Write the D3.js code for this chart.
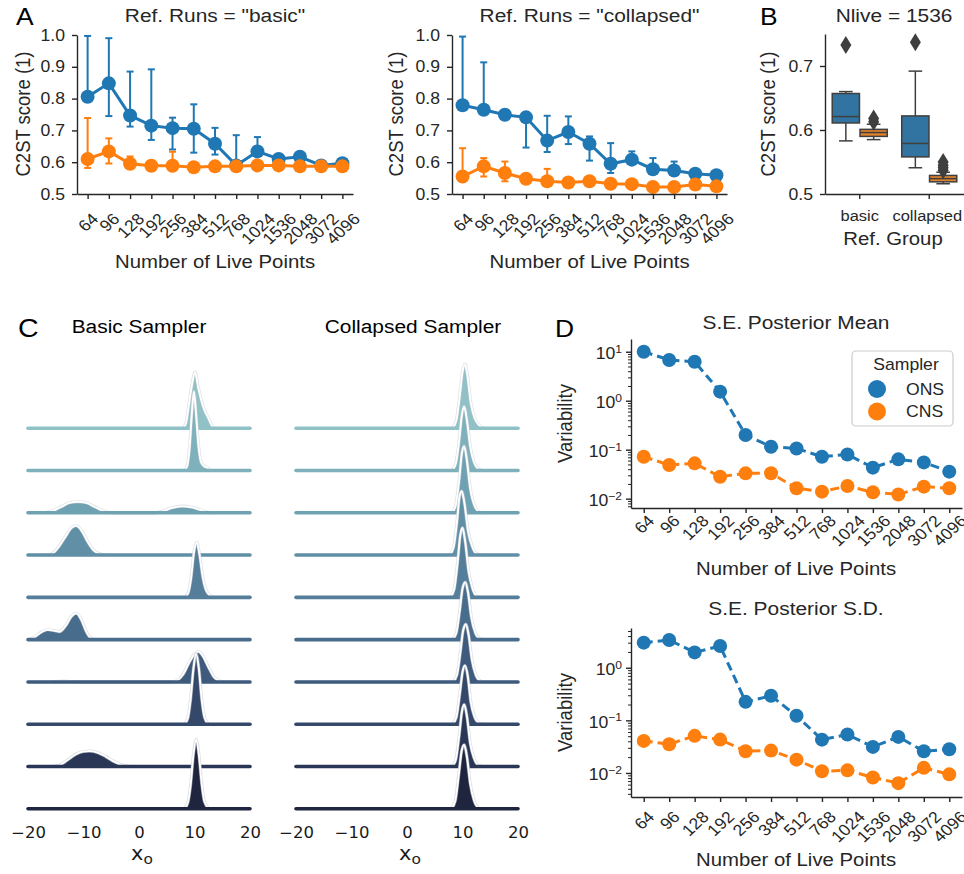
<!DOCTYPE html>
<html>
<head>
<meta charset="utf-8">
<script src="https://cdn.jsdelivr.net/npm/d3@7"></script>
<style>
  body { margin: 0; background: #fff; }
  svg { display: block; }
</style>
</head>
<body>
<svg id="fig" width="964" height="874"></svg>
<script>
// ---------------- data ----------------
const liveTicks = ["64", "96", "128", "192", "256", "384", "512", "768", "1024", "1536", "2048", "3072", "4096"];

// Panel A, Ref. Runs = "basic"
const basicOnsMean = [0.806, 0.848, 0.747, 0.715, 0.707, 0.705, 0.658, 0.590, 0.634, 0.610, 0.617, 0.590, 0.597];
const basicOnsLo   = [0.790, 0.745, 0.712, 0.670, 0.640, 0.630, 0.624, 0.585, 0.620, 0.600, 0.605, 0.585, 0.590];
const basicOnsHi   = [0.997, 0.990, 0.885, 0.892, 0.740, 0.782, 0.708, 0.685, 0.679, 0.620, 0.625, 0.595, 0.605];
const basicCnsMean = [0.610, 0.634, 0.595, 0.589, 0.589, 0.584, 0.587, 0.587, 0.590, 0.590, 0.587, 0.587, 0.587];
const basicCnsLo   = [0.582, 0.596, 0.585, 0.585, 0.580, 0.580, 0.583, 0.583, 0.586, 0.586, 0.583, 0.583, 0.583];
const basicCnsHi   = [0.739, 0.675, 0.618, 0.595, 0.633, 0.590, 0.592, 0.592, 0.595, 0.595, 0.592, 0.592, 0.592];

// Panel A, Ref. Runs = "collapsed"
const collOnsMean = [0.779, 0.765, 0.749, 0.741, 0.668, 0.695, 0.658, 0.595, 0.608, 0.578, 0.574, 0.564, 0.559];
const collOnsLo   = [0.765, 0.755, 0.740, 0.646, 0.632, 0.657, 0.605, 0.566, 0.598, 0.565, 0.565, 0.558, 0.552];
const collOnsHi   = [0.995, 0.914, 0.758, 0.750, 0.746, 0.744, 0.681, 0.660, 0.634, 0.613, 0.602, 0.572, 0.566];
const collCnsMean = [0.555, 0.587, 0.566, 0.548, 0.540, 0.536, 0.540, 0.532, 0.531, 0.522, 0.522, 0.530, 0.524];
const collCnsLo   = [0.540, 0.555, 0.540, 0.540, 0.532, 0.530, 0.535, 0.527, 0.526, 0.517, 0.517, 0.524, 0.519];
const collCnsHi   = [0.644, 0.613, 0.602, 0.556, 0.579, 0.543, 0.546, 0.538, 0.537, 0.528, 0.528, 0.536, 0.530];

// Panel B, Nlive = 1536 (order: basic-ONS, basic-CNS, collapsed-ONS, collapsed-CNS)
const boxGroups = ["basic", "collapsed"];
const boxSamplers = ["ONS", "CNS"];
const boxWhiskLo = [0.583, 0.585, 0.541, 0.516];
const boxQ1      = [0.611, 0.590, 0.558, 0.519];
const boxMedian  = [0.621, 0.596, 0.579, 0.524];
const boxQ3      = [0.657, 0.601, 0.622, 0.529];
const boxWhiskHi = [0.660, 0.609, 0.692, 0.534];
const boxOutliers = [[0.733], [0.613, 0.618], [0.737], [0.537, 0.541, 0.545, 0.550]];

// Panel C, posterior densities of x_o, [x, density] (top row first)
const basicRidges = [
  [[8.0, 0], [8.5, 0.06], [8.9, 0.2], [9.5, 0.42], [10.1, 0.56], [10.7, 0.4], [11.6, 0.21], [12.5, 0.1], [13.0, 0.04], [13.5, 0]],
  [[8.2, 0], [8.7, 0.05], [9.1, 0.22], [9.5, 0.55], [9.9, 0.79], [10.3, 0.55], [10.7, 0.26], [11.2, 0.08], [11.8, 0.04], [12.3, 0.03], [12.8, 0]],
  [[-17, 0], [-15.5, 0.02], [-14, 0.06], [-12.5, 0.1], [-11, 0.11], [-9.5, 0.1], [-8, 0.06], [-6.5, 0.02], [-5, 0], [3, 0], [4.5, 0.02], [6, 0.05], [7.7, 0.066], [9.5, 0.055], [11, 0.03], [12.5, 0.005], [13.5, 0]],
  [[-16.5, 0], [-15.5, 0.02], [-14.5, 0.08], [-13.3, 0.18], [-12.2, 0.27], [-11.3, 0.293], [-10.3, 0.24], [-9.2, 0.13], [-8.2, 0.05], [-7, 0.01], [-6, 0]],
  [[8.3, 0], [8.9, 0.05], [9.4, 0.2], [9.9, 0.45], [10.4, 0.55], [10.9, 0.43], [11.5, 0.2], [12.1, 0.07], [12.8, 0.02], [13.5, 0]],
  [[-20, 0], [-19, 0.02], [-18, 0.06], [-16.5, 0.099], [-15.2, 0.09], [-14.3, 0.08], [-13.2, 0.14], [-12.2, 0.23], [-11.3, 0.264], [-10.4, 0.2], [-9.5, 0.08], [-8.6, 0.01], [-8, 0]],
  [[-15.5, 0], [-13.5, 0.008], [-11.5, 0], [6, 0], [7, 0.02], [8, 0.08], [9, 0.19], [10, 0.28], [10.7, 0.304], [11.5, 0.26], [12.5, 0.15], [13.5, 0.05], [14.5, 0.01], [15.5, 0]],
  [[8.2, 0], [8.8, 0.06], [9.3, 0.25], [9.8, 0.55], [10.3, 0.703], [10.8, 0.55], [11.3, 0.25], [11.8, 0.07], [12.5, 0]],
  [[-15.5, 0], [-14.5, 0.01], [-13, 0.06], [-11.5, 0.12], [-10, 0.15], [-9, 0.154], [-7.5, 0.14], [-6, 0.1], [-4.5, 0.05], [-3, 0.015], [-1.5, 0]],
  [[8.2, 0], [8.8, 0.06], [9.3, 0.24], [9.8, 0.54], [10.3, 0.695], [10.8, 0.54], [11.3, 0.25], [11.8, 0.07], [12.6, 0]]
];
const collapsedRidges = [
  [[8.2, 0], [8.9, 0.08], [9.5, 0.32], [10.0, 0.56], [10.45, 0.64], [10.9, 0.52], [11.5, 0.25], [12.2, 0.1], [13.0, 0.03], [13.8, 0]],
  [[8.1, 0], [8.8, 0.07], [9.4, 0.3], [9.9, 0.56], [10.3, 0.64], [10.8, 0.5], [11.4, 0.24], [12.1, 0.08], [13.0, 0.01], [13.6, 0]],
  [[8.1, 0], [8.8, 0.08], [9.4, 0.33], [9.9, 0.6], [10.3, 0.666], [10.8, 0.52], [11.4, 0.24], [12.1, 0.08], [13.0, 0.01], [13.6, 0]],
  [[7.7, 0], [8.4, 0.08], [9.0, 0.33], [9.45, 0.58], [9.85, 0.64], [10.4, 0.5], [11.0, 0.24], [11.8, 0.08], [12.6, 0.01], [13.3, 0]],
  [[7.8, 0], [8.5, 0.08], [9.1, 0.34], [9.6, 0.62], [10.0, 0.695], [10.5, 0.55], [11.1, 0.26], [11.8, 0.09], [12.6, 0.01], [13.3, 0]],
  [[8.2, 0], [8.9, 0.07], [9.5, 0.29], [10.0, 0.51], [10.5, 0.575], [11.0, 0.47], [11.6, 0.22], [12.3, 0.07], [13.1, 0.01], [13.8, 0]],
  [[8.3, 0], [9.0, 0.07], [9.6, 0.29], [10.1, 0.51], [10.6, 0.578], [11.1, 0.47], [11.7, 0.22], [12.4, 0.07], [13.2, 0.01], [13.9, 0]],
  [[8.2, 0], [8.9, 0.07], [9.5, 0.3], [10.0, 0.52], [10.45, 0.586], [10.95, 0.48], [11.5, 0.22], [12.2, 0.07], [13.0, 0.01], [13.7, 0]],
  [[8.1, 0], [8.8, 0.07], [9.4, 0.31], [9.9, 0.55], [10.3, 0.619], [10.8, 0.5], [11.4, 0.23], [12.1, 0.08], [12.9, 0.01], [13.6, 0]],
  [[8.0, 0], [8.7, 0.08], [9.3, 0.33], [9.85, 0.58], [10.3, 0.64], [10.8, 0.52], [11.4, 0.25], [12.1, 0.08], [12.9, 0.01], [13.6, 0]]
];
const ridgeTicks = [-20, -10, 0, 10, 20];

// Panel D, variability of posterior mean / s.d.
const seMeanOns = [10.0, 6.8, 6.25, 1.53, 0.20, 0.115, 0.106, 0.072, 0.080, 0.043, 0.0635, 0.055, 0.0356];
const seMeanCns = [0.072, 0.0487, 0.0526, 0.0281, 0.0329, 0.033, 0.0163, 0.0139, 0.0181, 0.0135, 0.0122, 0.0176, 0.0163];
const seSdOns = [3.0, 3.37, 1.96, 2.59, 0.225, 0.293, 0.122, 0.043, 0.0537, 0.0313, 0.0485, 0.0259, 0.0282];
const seSdCns = [0.0407, 0.0352, 0.0507, 0.0431, 0.0259, 0.0266, 0.0179, 0.0108, 0.0112, 0.0082, 0.0064, 0.0125, 0.0094];

// ---------------- style ----------------
const FONT = '"Liberation Sans", Arial, Helvetica, sans-serif';
const DEJAVU = '"DejaVu Sans", sans-serif';
const INK = "#262626";
const BLUE = "#1f77b4", ORANGE = "#ff7f0e";
const BOX_FILL = ["#3274a1", "#e1812c"];
const BOX_EDGE = "#3f3f3f";
const SX = 1.1; // the original figure is slightly stretched horizontally

const svg = d3.select("#fig");
svg.append("rect").attr("width", 964).attr("height", 874).attr("fill", "#fff");

// text with the horizontal stretch of the original
function addText(g, x, y, str, o = {}) {
  const t = g.append("text")
    .attr("transform", `translate(${x},${y}) scale(${SX},1)` + (o.rotate ? ` rotate(${o.rotate})` : ""))
    .attr("text-anchor", o.anchor || "middle")
    .style("font-family", o.family || FONT)
    .style("font-size", (o.size || 18) + "px")
    .style("fill", o.color || INK);
  if (str != null) t.text(str);
  return t;
}

function styleAxis(ag, size, family) {
  ag.select(".domain").attr("stroke", INK).attr("stroke-width", 1.4);
  ag.selectAll(".tick line").attr("stroke", INK).attr("stroke-width", 1.4);
  ag.selectAll(".tick text")
    .style("font-family", family || FONT)
    .style("font-size", size + "px")
    .style("fill", INK);
}

// move x/y of tick labels into a transform so they get the stretch too
function stretchTicks(ag) {
  ag.selectAll(".tick text").each(function () {
    const tx = +this.getAttribute("x") || 0, ty = +this.getAttribute("y") || 0;
    d3.select(this).attr("x", 0).attr("y", 0)
      .attr("transform", `translate(${tx},${ty}) scale(${SX},1)`);
  });
}

function yAxis(g, scale, x0, ticks) {
  const ag = g.append("g").attr("transform", `translate(${x0},0)`)
    .call(d3.axisLeft(scale).tickValues(ticks).tickFormat(d3.format(".1f"))
      .tickSize(5).tickPadding(7).tickSizeOuter(0));
  styleAxis(ag, 16);
  stretchTicks(ag);
  return ag;
}

// x axis with labels rotated 45 deg, centred under their ticks;
// `top` is the page y where the rotated labels begin
function xAxisRotated(g, scale, y0, top) {
  const ag = g.append("g").attr("transform", `translate(0,${y0})`)
    .call(d3.axisBottom(scale).tickSize(5).tickSizeOuter(0));
  styleAxis(ag, 16);
  ag.selectAll(".tick text").each(function () {
    const w = this.getComputedTextLength();
    const cy = (top - y0) + (w + 16 * 0.72) / (2 * Math.SQRT2);
    d3.select(this).attr("y", 0).attr("dy", "0.35em").attr("text-anchor", "middle")
      .attr("transform", `translate(0,${cy}) scale(${SX},1) rotate(-45)`);
  });
  return ag;
}

function panelLetter(x, y, letter, size) {
  addText(svg, x, y, letter, { anchor: "start", size: size || 24, color: "#000" });
}

// ---------------- Panel A: C2ST vs number of live points ----------------
const yA = d3.scaleLinear([0.5, 1.0], [194, 35]);
const panelsA = [
  { x0: 77, x1: 353, title: 'Ref. Runs = "basic"', yLabelX: 23,
    series: [
      { color: BLUE, mean: basicOnsMean, lo: basicOnsLo, hi: basicOnsHi },
      { color: ORANGE, mean: basicCnsMean, lo: basicCnsLo, hi: basicCnsHi }] },
  { x0: 452, x1: 727, title: 'Ref. Runs = "collapsed"', yLabelX: 396,
    series: [
      { color: BLUE, mean: collOnsMean, lo: collOnsLo, hi: collOnsHi },
      { color: ORANGE, mean: collCnsMean, lo: collCnsLo, hi: collCnsHi }] }
];

panelsA.forEach(p => {
  const g = svg.append("g");
  const x = d3.scalePoint(liveTicks, [p.x0, p.x1]).padding(0.5);

  p.series.forEach(s => {
    // error bars with caps
    const eb = g.append("g").attr("stroke", s.color).attr("stroke-width", 2);
    liveTicks.forEach((t, i) => {
      const cx = x(t);
      eb.append("line").attr("x1", cx).attr("x2", cx).attr("y1", yA(s.lo[i])).attr("y2", yA(s.hi[i]));
      eb.append("line").attr("x1", cx - 3.5).attr("x2", cx + 3.5).attr("y1", yA(s.lo[i])).attr("y2", yA(s.lo[i]));
      eb.append("line").attr("x1", cx - 3.5).attr("x2", cx + 3.5).attr("y1", yA(s.hi[i])).attr("y2", yA(s.hi[i]));
    });
    // line + markers
    g.append("path").datum(s.mean)
      .attr("d", d3.line().x((d, i) => x(liveTicks[i])).y(d => yA(d)))
      .attr("fill", "none").attr("stroke", s.color).attr("stroke-width", 3);
    g.selectAll(null).data(s.mean).join("circle")
      .attr("cx", (d, i) => x(liveTicks[i])).attr("cy", d => yA(d))
      .attr("r", 7).attr("fill", s.color);
  });

  yAxis(g, yA, p.x0, [0.5, 0.6, 0.7, 0.8, 0.9, 1.0]);
  xAxisRotated(g, x, 194, 212);

  const cx = (p.x0 + p.x1) / 2;
  addText(g, cx, 22, p.title, { size: 19 });
  addText(g, cx, 268, "Number of Live Points", { size: 18.5 });
  addText(g, p.yLabelX, 114, "C2ST score (1)", { size: 18.5, rotate: -90 }).attr("dy", "0.35em");
});
panelLetter(16, 25, "A");

// ---------------- Panel B: box plots at Nlive = 1536 ----------------
{
  const g = svg.append("g");
  const yB = d3.scaleLinear([0.5, 0.75], [194, 34]);
  const xB = d3.scaleBand(boxGroups, [825, 964]);
  const hue = d3.scaleBand(boxSamplers, [-0.4 * xB.bandwidth(), 0.4 * xB.bandwidth()]);
  const bw = hue.bandwidth() * 0.98;

  boxGroups.forEach((grp, gi) => {
    boxSamplers.forEach((smp, si) => {
      const k = gi * 2 + si;
      const cx = xB(grp) + xB.bandwidth() / 2 + hue(smp) + hue.bandwidth() / 2;
      const box = g.append("g").attr("stroke", BOX_EDGE).attr("stroke-width", 1.5);
      // whiskers and caps
      box.append("line").attr("x1", cx).attr("x2", cx).attr("y1", yB(boxWhiskLo[k])).attr("y2", yB(boxQ1[k]));
      box.append("line").attr("x1", cx).attr("x2", cx).attr("y1", yB(boxQ3[k])).attr("y2", yB(boxWhiskHi[k]));
      box.append("line").attr("x1", cx - bw / 4).attr("x2", cx + bw / 4).attr("y1", yB(boxWhiskLo[k])).attr("y2", yB(boxWhiskLo[k]));
      box.append("line").attr("x1", cx - bw / 4).attr("x2", cx + bw / 4).attr("y1", yB(boxWhiskHi[k])).attr("y2", yB(boxWhiskHi[k]));
      // box and median
      box.append("rect")
        .attr("x", cx - bw / 2).attr("width", bw)
        .attr("y", yB(boxQ3[k])).attr("height", yB(boxQ1[k]) - yB(boxQ3[k]))
        .attr("fill", BOX_FILL[si]);
      box.append("line").attr("x1", cx - bw / 2).attr("x2", cx + bw / 2).attr("y1", yB(boxMedian[k])).attr("y2", yB(boxMedian[k]));
      // outliers as thin diamonds
      g.selectAll(null).data(boxOutliers[k]).join("path")
        .attr("transform", d => `translate(${cx},${yB(d)})`)
        .attr("d", "M0,-9L5.5,0L0,9L-5.5,0Z")
        .attr("fill", BOX_EDGE);
    });
  });

  const ya = g.append("g").attr("transform", "translate(825,0)")
    .call(d3.axisLeft(yB).tickValues([0.5, 0.6, 0.7]).tickFormat(d3.format(".1f"))
      .tickSize(5).tickPadding(7).tickSizeOuter(0));
  styleAxis(ya, 16);
  stretchTicks(ya);
  const xa = g.append("g").attr("transform", "translate(0,194)")
    .call(d3.axisBottom(xB).tickSize(5).tickPadding(11).tickSizeOuter(0));
  styleAxis(xa, 15);
  stretchTicks(xa);
  xa.selectAll(".tick text").filter(d => d === "collapsed").attr("transform", function () {
    return this.getAttribute("transform").replace("translate(0,", "translate(-2,");
  });

  addText(g, 894, 22, "Nlive = 1536", { size: 19 });
  addText(g, 893, 245, "Ref. Group", { size: 18.5 });
  addText(g, 768, 114, "C2ST score (1)", { size: 18.5, rotate: -90 }).attr("dy", "0.35em");
  panelLetter(760, 25, "B");
}

// ---------------- Panel C: ridge plots of x_o ----------------
function cubehelixPalette(n, light, dark) {
  const clamp = v => Math.max(0, Math.min(1, v));
  return d3.range(n).map(i => {
    const x = light + (dark - light) * i / (n - 1);
    const a = 0.8 * x * (1 - x) / 2, phi = 2 * Math.PI * (-0.25 * x);
    const c = Math.cos(phi), s = Math.sin(phi);
    return d3.rgb(
      255 * clamp(x + a * (-0.14861 * c + 1.78277 * s)),
      255 * clamp(x + a * (-0.29227 * c - 0.90649 * s)),
      255 * clamp(x + a * (1.97294 * c))).formatHex();
  });
}
const ridgeColors = cubehelixPalette(10, 0.7, 0.15);
const rowY = d3.scaleLinear([0, 9], [428.2, 808.8]);
const hDens = d3.scaleLinear([0, 1], [0, 100]);

function drawRidges(ridges, x0, x1, title, titleX) {
  const g = svg.append("g");
  const x = d3.scaleLinear([-20, 20], [x0, x1]);
  ridges.forEach((pts, i) => {
    const base = rowY(i);
    const area = d3.area().curve(d3.curveMonotoneX)
      .x(d => x(d[0])).y0(base).y1(d => base - hDens(d[1]));
    const line = d3.line().curve(d3.curveMonotoneX)
      .x(d => x(d[0])).y(d => base - hDens(d[1]));
    const row = g.append("g");
    row.append("path").attr("d", area(pts))
      .attr("fill", ridgeColors[i]).attr("stroke", ridgeColors[i]).attr("stroke-width", 1.5);
    row.append("path").attr("d", line(pts))
      .attr("fill", "none").attr("stroke", "#c9ccd2").attr("stroke-width", 3.2).attr("stroke-opacity", 0.6);
    row.append("path").attr("d", line(pts))
      .attr("fill", "none").attr("stroke", "#fff").attr("stroke-width", 2);
    row.append("line")
      .attr("x1", x(-20)).attr("x2", x(20)).attr("y1", base).attr("y2", base)
      .attr("stroke", ridgeColors[i]).attr("stroke-width", 3.6).attr("stroke-linecap", "round");
  });

  const ag = g.append("g").attr("transform", "translate(0,820)")
    .call(d3.axisBottom(x).tickValues(ridgeTicks).tickSize(0).tickPadding(7)
      .tickFormat(d => String(d).replace("-", "\u2212")));
  ag.select(".domain").remove();
  styleAxis(ag, 15, DEJAVU);
  ag.selectAll(".tick text").style("fill", "#1a1a1a");
  stretchTicks(ag);

  const xl = addText(g, (x0 + x1) / 2 + 3, 860, null, { family: DEJAVU, size: 19, color: "#1a1a1a" });
  xl.append("tspan").text("x");
  xl.append("tspan").attr("dy", 4).style("font-size", "14px").text("o");
  addText(g, titleX, 333, title, { size: 19, color: "#000" });
}
drawRidges(basicRidges, 28, 250, "Basic Sampler", 139);
drawRidges(collapsedRidges, 296, 518, "Collapsed Sampler", 413);
panelLetter(18, 337, "C", 26);

// ---------------- Panel D: variability on log scale ----------------
function logAxis(g, scale, x0) {
  const [lo, hi] = scale.domain();
  const major = [1e-3, 1e-2, 1e-1, 1, 10, 100].filter(v => v >= lo && v <= hi);
  const minor = [];
  for (let e = -3; e <= 1; e++) {
    for (let m = 2; m <= 9; m++) {
      const v = m * Math.pow(10, e);
      if (v >= lo && v <= hi) minor.push(v);
    }
  }
  const mg = g.append("g").attr("transform", `translate(${x0},0)`)
    .call(d3.axisLeft(scale).tickValues(minor).tickFormat("").tickSize(3).tickSizeOuter(0));
  styleAxis(mg, 16);
  mg.select(".domain").remove();
  mg.selectAll(".tick line").attr("stroke-width", 1);
  const ag = g.append("g").attr("transform", `translate(${x0},0)`)
    .call(d3.axisLeft(scale).tickValues(major).tickFormat("").tickSize(5).tickSizeOuter(0));
  styleAxis(ag, 16);
  ag.selectAll(".tick").each(function (d) {
    const e = Math.round(Math.log10(d));
    const t = addText(d3.select(this), -9, 7, null, { anchor: "end", size: 16 });
    t.append("tspan").text("10");
    t.append("tspan").attr("dy", "-0.6em").style("font-size", "11px").text(String(e).replace("-", "\u2212"));
  });
}

const panelsD = [
  { y0: 508, y1: 339, domain: [0.00645, 18.2], title: "S.E. Posterior Mean", titleY: 329,
    labelTop: 514, xLabelY: 575, ons: seMeanOns, cns: seMeanCns, legend: true },
  { y0: 797, y1: 628, domain: [0.00349, 5.7], title: "S.E. Posterior S.D.", titleY: 615,
    labelTop: 810, xLabelY: 866, ons: seSdOns, cns: seSdCns, legend: false }
];

panelsD.forEach(p => {
  const g = svg.append("g");
  const x = d3.scalePoint(liveTicks, [631, 962]).padding(0.5);
  const y = d3.scaleLog(p.domain, [p.y0, p.y1]);

  [[p.ons, BLUE], [p.cns, ORANGE]].forEach(([vals, color]) => {
    g.append("path").datum(vals)
      .attr("d", d3.line().x((d, i) => x(liveTicks[i])).y(d => y(d)))
      .attr("fill", "none").attr("stroke", color).attr("stroke-width", 3)
      .attr("stroke-dasharray", "9,5");
    g.selectAll(null).data(vals).join("circle")
      .attr("cx", (d, i) => x(liveTicks[i])).attr("cy", d => y(d))
      .attr("r", 7).attr("fill", color);
  });

  logAxis(g, y, 631);
  xAxisRotated(g, x, p.y0, p.labelTop);

  addText(g, 796, p.titleY, p.title, { size: 19 });
  addText(g, 796, p.xLabelY, "Number of Live Points", { size: 18.5 });
  addText(g, 565, (p.y0 + p.y1) / 2, "Variability", { size: 18.5, rotate: -90 }).attr("dy", "0.35em");

  if (p.legend) {
    const lg = g.append("g");
    lg.append("rect").attr("x", 852).attr("y", 351).attr("width", 101).attr("height", 75)
      .attr("rx", 4).attr("fill", "#fff").attr("fill-opacity", 0.8)
      .attr("stroke", "#cccccc").attr("stroke-width", 1.2);
    addText(lg, 906, 370, "Sampler", { size: 16 });
    [["ONS", BLUE, 389], ["CNS", ORANGE, 411.5]].forEach(([name, color, ly]) => {
      lg.append("circle").attr("cx", 877).attr("cy", ly).attr("r", 9).attr("fill", color);
      addText(lg, 906, ly + 5.5, name, { size: 16, anchor: "start" });
    });
  }
});
panelLetter(555, 337, "D");
</script>
</body>
</html>
